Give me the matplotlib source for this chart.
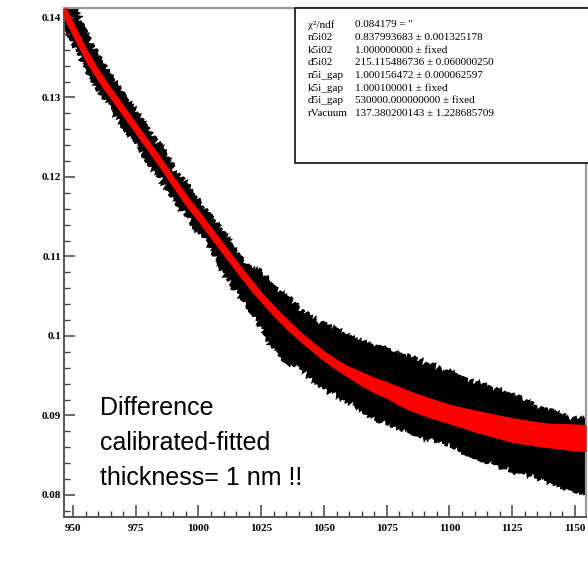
import matplotlib
matplotlib.use('Agg')
import matplotlib.pyplot as plt
from matplotlib.patches import Rectangle
from matplotlib.ticker import MultipleLocator, FuncFormatter
import numpy as np

wavelength = [946.4, 950, 955, 960, 965, 970, 975, 980, 985, 990, 995,
              1000, 1005, 1010, 1015, 1020, 1025, 1030, 1035, 1040, 1045,
              1050, 1055, 1060, 1065, 1070, 1075, 1080, 1085, 1090, 1095,
              1100, 1105, 1110, 1115, 1120, 1125, 1130, 1135, 1140, 1145,
              1150, 1154.4]

# measured data: upper / lower edge of the noisy band
data_top = [0.14365, 0.14138, 0.13799, 0.13484, 0.13233, 0.13006, 0.12792,
            0.12553, 0.12352, 0.12088, 0.11887, 0.11673, 0.11484, 0.11258,
            0.11031, 0.10855, 0.10792, 0.10579, 0.10490, 0.10327, 0.10214,
            0.10126, 0.10063, 0.09962, 0.09912, 0.09849, 0.09824, 0.09736,
            0.09723, 0.09648, 0.09585, 0.09534, 0.09459, 0.09396, 0.09358,
            0.09295, 0.09233, 0.09182, 0.09094, 0.09044, 0.08981, 0.08943,
            0.08931]
data_bot = [0.13962, 0.13736, 0.13421, 0.13132, 0.12906, 0.12667, 0.12465,
            0.12214, 0.12013, 0.11761, 0.11547, 0.11333, 0.11145, 0.10830,
            0.10578, 0.10390, 0.10151, 0.09862, 0.09698, 0.09610, 0.09497,
            0.09358, 0.09271, 0.09195, 0.09094, 0.08981, 0.08918, 0.08868,
            0.08792, 0.08742, 0.08679, 0.08641, 0.08566, 0.08503, 0.08440,
            0.08377, 0.08314, 0.08289, 0.08239, 0.08188, 0.08126, 0.08075,
            0.08038]

# fit: centre and band width
fit_mid = [0.14088, 0.13862, 0.13547, 0.13283, 0.13057, 0.12835, 0.12614,
           0.12395, 0.12172, 0.11937, 0.11711, 0.11509, 0.11300, 0.11090,
           0.10880, 0.10680, 0.10490, 0.10315, 0.10155, 0.10010, 0.09875,
           0.09750, 0.09640, 0.09545, 0.09460, 0.09384, 0.09321, 0.09245,
           0.09176, 0.09119, 0.09069, 0.09019, 0.08975, 0.08931, 0.08893,
           0.08855, 0.08817, 0.08792, 0.08767, 0.08748, 0.08736, 0.08723,
           0.08717]
fit_width = [0.0020, 0.0019, 0.0018, 0.0016, 0.0015, 0.0015, 0.0015, 0.0015,
             0.0015, 0.0015, 0.0015, 0.0015, 0.0015, 0.0015, 0.0015, 0.0015,
             0.0014, 0.0014, 0.0014, 0.0013, 0.0013, 0.0013, 0.0014, 0.0015,
             0.0018, 0.0020, 0.0021, 0.0024, 0.0025, 0.0025, 0.0025, 0.0025,
             0.0026, 0.0028, 0.0029, 0.0030, 0.0031, 0.0031, 0.0031, 0.0031,
             0.0033, 0.0034, 0.0034]

stats_names = ["\u03c7\u00b2/ndf", "n5i02", "k5i02", "d5i02", "n5i_gap",
               "k5i_gap", "d5i_gap", "rVacuum"]
stats_values = ["0.084179 = ''",
                "0.837993683 \u00b1 0.001325178",
                "1.000000000 \u00b1 fixed",
                "215.115486736 \u00b1 0.060000250",
                "1.000156472 \u00b1 0.000062597",
                "1.000100001 \u00b1 fixed",
                "530000.000000000 \u00b1 fixed",
                "137.380200143 \u00b1 1.228685709"]
note_lines = ["Difference", "calibrated-fitted", "thickness= 1 nm !!"]

x = np.array(wavelength)
mid = np.array(fit_mid)
half = np.array(fit_width) / 2

fig = plt.figure(figsize=(5.88, 5.62), dpi=100)
ax = fig.add_axes([0.1088, 0.0801, 0.8878, 0.9057])

# noisy measurement band, drawn as a patch so the edges can be roughened
band = ax.fill(np.concatenate([x, x[::-1]]),
               np.concatenate([data_top, data_bot[::-1]]),
               facecolor='black', edgecolor='black', lw=2)[0]
band.set_sketch_params(scale=3, length=3, randomness=6)

ax.fill_between(x, mid - half, mid + half, color='red', lw=0, zorder=3)
ax.plot(x, mid, color='red', lw=1.5, zorder=3)

ax.set_xlim(946.4, 1154.4)
ax.set_ylim(0.07723, 0.14126)

ax.xaxis.set_major_locator(MultipleLocator(25))
ax.xaxis.set_minor_locator(MultipleLocator(5))
ax.yaxis.set_major_locator(MultipleLocator(0.01))
ax.yaxis.set_minor_locator(MultipleLocator(0.002))
ax.xaxis.set_major_formatter(FuncFormatter(lambda v, p: '%d' % round(v)))
ax.yaxis.set_major_formatter(FuncFormatter(lambda v, p: '%g' % round(v, 3)))

ax.tick_params(which='both', direction='in', top=False, right=False,
               color='#444444')
ax.tick_params(which='major', length=9, width=1.1)
ax.tick_params(which='minor', length=4, width=1)
ax.tick_params(axis='y', which='major', length=8, pad=2)
for lab in ax.get_xticklabels() + ax.get_yticklabels():
    lab.set_fontfamily('Liberation Serif')
    lab.set_fontweight('bold')
    lab.set_fontsize(8)
ax.tick_params(axis='x', pad=5)

for side in ['left', 'bottom']:
    ax.spines[side].set_color('#555555')
    ax.spines[side].set_linewidth(1.4)
for side in ['top', 'right']:
    ax.spines[side].set_color('#999999')
    ax.spines[side].set_linewidth(1.6)

# fit statistics box
ax.add_patch(Rectangle((0.4425, 0.6955), 0.62, 0.3045, transform=ax.transAxes,
                       facecolor='white', edgecolor='#222222', lw=1.3,
                       clip_on=False, zorder=5))
for i, (name, val) in enumerate(zip(stats_names, stats_values)):
    y = 0.9666 - i * 0.0248
    ax.text(0.4674, y, name, transform=ax.transAxes, fontsize=8,
            family='Liberation Serif', va='center', zorder=6)
    ax.text(0.5575, y, val, transform=ax.transAxes, fontsize=8,
            family='Liberation Serif', va='center', zorder=6)

for i, line in enumerate(note_lines):
    ax.text(0.069, 0.2141 - i * 0.0688, line, transform=ax.transAxes,
            fontsize=18, family='Liberation Sans', va='center', zorder=6)

fig.savefig('out.png', dpi=100)
